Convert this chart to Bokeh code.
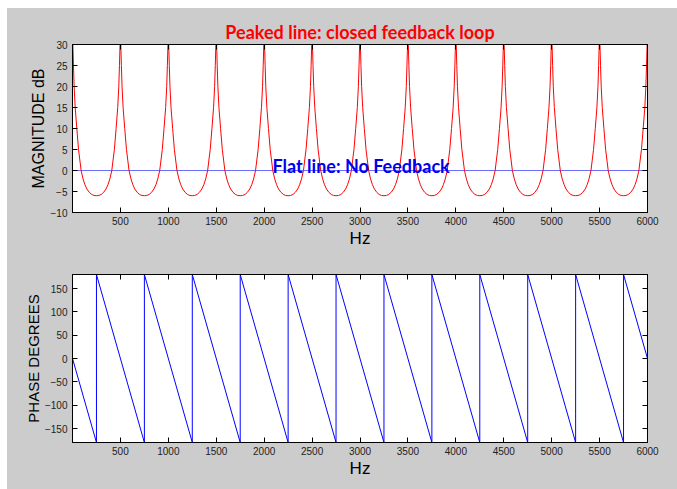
from bokeh.plotting import figure
from bokeh.models import Range1d, FixedTicker, LinearAxis, Label, Spacer
from bokeh.layouts import column, row
from bokeh.embed import file_html
from bokeh.resources import INLINE

# ---------------- data ----------------
peak_hz = [0, 500, 1000, 1500, 2000, 2500, 3000, 3500, 4000, 4500, 5000, 5500, 6000]
# one half-period of the peaked magnitude curve, offset from a peak (Hz) -> dB
profile_offset_hz = [0, 4, 10, 17, 28, 45, 63, 90, 110, 130, 150, 175, 200, 225, 250]
profile_db = [32, 30, 25, 20, 15, 10, 5, 0, -2.0, -3.4, -4.4, -5.2, -5.7, -5.95, -6.0]

flat_hz = [0, 6000]
flat_db = [0, 0]

phase_start_hz, phase_start_deg = 0, 0
jump_hz = [250, 750, 1250, 1750, 2250, 2750, 3250, 3750, 4250, 4750, 5250, 5750]
jump_low_deg, jump_high_deg = -180, 180
phase_end_hz, phase_end_deg = 6000, 0

x_ticks = [500, 1000, 1500, 2000, 2500, 3000, 3500, 4000, 4500, 5000, 5500, 6000]
mag_ticks = [-10, -5, 0, 5, 10, 15, 20, 25, 30]
phase_ticks = [-150, -100, -50, 0, 50, 100, 150]

# build the series
mag_hz, mag_db = [], []
for k in range(len(peak_hz) - 1):
    left, right = peak_hz[k], peak_hz[k + 1]
    for o, d in zip(profile_offset_hz, profile_db):
        mag_hz.append(left + o)
        mag_db.append(d)
    for o, d in zip(reversed(profile_offset_hz[:-1]), reversed(profile_db[:-1])):
        mag_hz.append(right - o)
        mag_db.append(d)

phase_hz, phase_deg = [phase_start_hz], [phase_start_deg]
for j in jump_hz:
    phase_hz += [j, j]
    phase_deg += [jump_low_deg, jump_high_deg]
phase_hz.append(phase_end_hz)
phase_deg.append(phase_end_deg)

# ---------------- styling ----------------
BG = "#cccccc"
TICK_FONT = "Liberation Sans"


def style(p, yticks, ylabel, ylab_standoff):
    p.background_fill_color = "white"
    p.border_fill_color = BG
    p.outline_line_color = "black"
    p.xgrid.visible = False
    p.ygrid.visible = False
    p.xaxis.ticker = FixedTicker(ticks=x_ticks)
    p.yaxis.ticker = FixedTicker(ticks=yticks)
    for ax in (p.xaxis, p.yaxis):
        ax.major_tick_in = 5
        ax.major_tick_out = 0
        ax.minor_tick_in = 0
        ax.minor_tick_out = 0
        ax.axis_line_color = "black"
        ax.major_tick_line_color = "black"
        ax.major_label_text_font = TICK_FONT
        ax.major_label_text_font_size = "10px"
        ax.major_label_text_color = "#222222"
        ax.axis_label_text_font = TICK_FONT
        ax.axis_label_text_font_style = "normal"
        ax.axis_label_text_color = "black"
    p.xaxis.axis_label = "Hz"
    p.xaxis.axis_label_text_font_size = "17px"
    p.xaxis.major_label_standoff = 4
    p.xaxis.axis_label_standoff = 1
    p.yaxis.axis_label = ylabel
    p.yaxis.axis_label_text_font_size = "16px"
    p.yaxis.major_label_standoff = 5
    p.yaxis.axis_label_standoff = ylab_standoff
    for side, tk in (("above", x_ticks), ("right", yticks)):
        ax = LinearAxis(ticker=FixedTicker(ticks=tk),
                        major_label_overrides={t: "" for t in tk})
        ax.major_label_standoff = 0
        ax.major_tick_in = 5
        ax.major_tick_out = 0
        ax.minor_tick_in = 0
        ax.minor_tick_out = 0
        ax.axis_line_color = "black"
        p.add_layout(ax, side)


p1 = figure(width=670, height=242, output_backend="svg", toolbar_location=None,
            x_range=Range1d(0, 6000), y_range=Range1d(-10, 30),
            min_border_left=65, min_border_right=30, min_border_top=36, min_border_bottom=38,
            title="Peaked line: closed feedback loop")
p1.title.align = "center"
p1.title.text_font = "Lato"
p1.title.text_font_size = "18px"
p1.title.text_font_style = "bold"
p1.title.text_color = "#ff0000"
p1.title.standoff = 3
style(p1, mag_ticks, "MAGNITUDE dB", 1)
p1.line(flat_hz, flat_db, line_color="#6f6fff", line_width=1.2)
p1.line(mag_hz, mag_db, line_color="#ff0000", line_width=1)
p1.add_layout(Label(x=2087, y=1.0, text="Flat line: No Feedback", text_font="Lato",
                    text_font_size="18px", text_font_style="bold", text_color="#0000ee",
                    text_baseline="alphabetic"))

p2 = figure(width=670, height=239, output_backend="svg", toolbar_location=None,
            x_range=Range1d(0, 6000), y_range=Range1d(-180, 180),
            min_border_left=65, min_border_right=30, min_border_top=24, min_border_bottom=47)
style(p2, phase_ticks, "PHASE DEGREES", 0)
p2.yaxis.axis_label_text_font_size = "15px"
p2.line(phase_hz, phase_deg, line_color="#0000ff", line_width=1)

plots = column(p1, p2, spacing=0, styles={"background-color": BG})
layout = column(Spacer(width=677, height=8),
                row(Spacer(width=7, height=481), plots, spacing=0),
                spacing=0)
open("out.html", "w").write(file_html(layout, INLINE))
